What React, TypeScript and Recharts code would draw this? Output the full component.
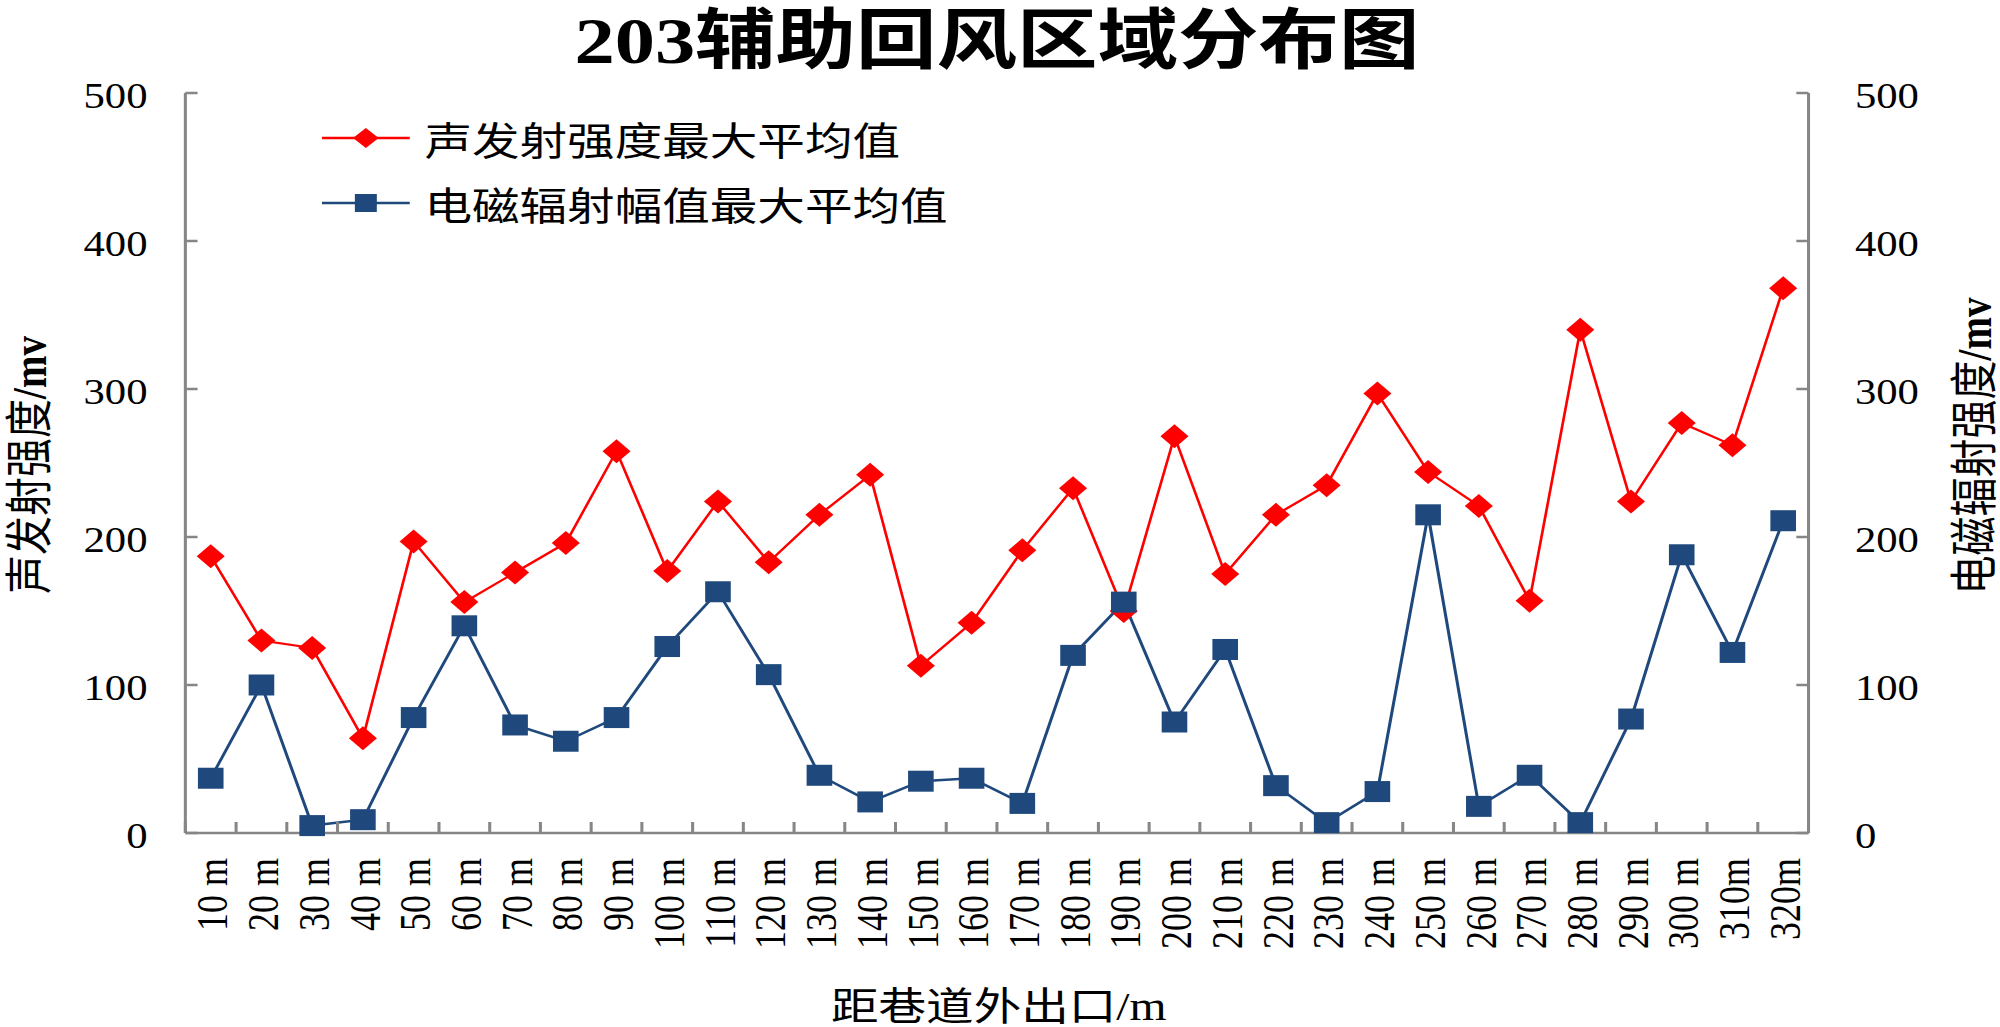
import { LineChart, Line, XAxis, YAxis, Legend } from "recharts";

// distance from the roadway exit
const distances = [
  "10 m", "20 m", "30 m", "40 m", "50 m", "60 m", "70 m", "80 m",
  "90 m", "100 m", "110 m", "120 m", "130 m", "140 m", "150 m", "160 m",
  "170 m", "180 m", "190 m", "200 m", "210 m", "220 m", "230 m", "240 m",
  "250 m", "260 m", "270 m", "280 m", "290 m", "300 m", "310m", "320m",
];

// 声发射强度最大平均值 (mv)
const acoustic = [
  187, 130, 125, 64, 197, 156, 176, 196,
  258, 177, 224, 183, 215, 242, 113, 142,
  191, 233, 150, 268, 175, 215, 235, 297,
  244, 221, 157, 340, 224, 277, 262, 368,
];

// 电磁辐射幅值最大平均值 (mv)
const electro = [
  37, 100, 5, 9, 78, 140, 73, 62,
  78, 126, 163, 107, 39, 21, 35, 37,
  20, 120, 156, 75, 124, 32, 7, 28,
  215, 18, 39, 7, 77, 188, 122, 211,
];

const valueTicks = [0, 100, 200, 300, 400, 500];

const rows = distances.map((d, i) => ({ distance: d, acoustic: acoustic[i], electro: electro[i] }));

// the source picture is stretched sideways, so draw narrow and scale x
const CHART_W = 1640;
const CHART_H = 1027;
const SX = 2000 / CHART_W;

const RED = "#FF0000";
const BLUE = "#1F497D";
const AXIS = "#868686";
const FONT = '"Liberation Serif", "Noto Sans CJK SC", serif';

function renderDiamond(props: any) {
  const { cx, cy, index } = props;
  if (cx == null || cy == null) return <g key={`a-${index}`} />;
  return (
    <path
      key={`a-${index}`}
      d={`M${cx},${cy - 12}L${cx + 11.5},${cy}L${cx},${cy + 12}L${cx - 11.5},${cy}Z`}
      fill={RED}
    />
  );
}

function renderSquare(props: any) {
  const { cx, cy, index } = props;
  if (cx == null || cy == null) return <g key={`e-${index}`} />;
  return <rect key={`e-${index}`} x={cx - 10.5} y={cy - 10.5} width={21} height={21} fill={BLUE} />;
}

function LeftTick({ x, y, payload }: any) {
  return (
    <g>
      <line x1={x + 31} x2={x + 41} y1={y} y2={y} stroke={AXIS} strokeWidth={2.5} />
      <text x={x} y={y} dy="0.42em" textAnchor="end" fontFamily={FONT} fontSize={35} fill="#000">
        {payload.value}
      </text>
    </g>
  );
}

function RightTick({ x, y, payload }: any) {
  return (
    <g>
      <line x1={x - 38} x2={x - 48} y1={y} y2={y} stroke={AXIS} strokeWidth={2.5} />
      <text x={x} y={y} dy="0.42em" textAnchor="start" fontFamily={FONT} fontSize={35} fill="#000">
        {payload.value}
      </text>
    </g>
  );
}

function DistanceTick({ x, y, payload }: any) {
  const half = payload && payload.offset ? payload.offset : 20.8;
  return (
    <g>
      <line x1={x - half} x2={x - half} y1={y - 25} y2={y - 36} stroke={AXIS} strokeWidth={2.5} />
      <text
        transform={`translate(${x},${y}) rotate(-90)`}
        dy="0.38em"
        textAnchor="end"
        fontFamily={FONT}
        fontSize={36}
        fill="#000"
      >
        {payload.value}
      </text>
    </g>
  );
}

function LegendBox({ payload }: any) {
  return (
    <div style={{ fontFamily: FONT, fontSize: 39, color: "#000" }}>
      {(payload || []).map((p: any) => (
        <div key={p.value} style={{ display: "flex", alignItems: "center", height: 65, whiteSpace: "nowrap" }}>
          <svg width={72} height={30} style={{ overflow: "visible" }}>
            <line x1={0} x2={72} y1={15} y2={15} stroke={p.color} strokeWidth={2.5} />
            {p.dataKey === "acoustic" ? (
              <path d="M36,5L46.5,15L36,25L25.5,15Z" fill={RED} />
            ) : (
              <rect x={27} y={6} width={18} height={18} fill={BLUE} />
            )}
          </svg>
          <span style={{ marginLeft: 12 }}>{p.value}</span>
        </div>
      ))}
    </div>
  );
}

const rotated = (cx: number, cy: number) => ({
  position: "absolute" as const,
  left: cx,
  top: cy,
  transform: "translate(-50%, -50%) rotate(-90deg)",
  whiteSpace: "nowrap" as const,
  lineHeight: 1,
  fontFamily: FONT,
  fontSize: 39,
  color: "#000",
});

export default function App() {
  return (
    <div style={{ position: "absolute", left: 0, top: 0, width: 2000, height: 1027, overflow: "hidden", background: "#fff" }}>
      <div
        style={{
          position: "absolute",
          left: 0,
          top: 0,
          width: CHART_W,
          height: CHART_H,
          transform: `scaleX(${SX})`,
          transformOrigin: "0 0",
        }}
      >
        <LineChart width={CHART_W} height={CHART_H} data={rows} margin={{ top: 93, right: 57, bottom: 44, left: 52 }}>
          <XAxis
            dataKey="distance"
            scale="band"
            interval={0}
            height={150}
            tickSize={0}
            tickMargin={25}
            tickLine={false}
            axisLine={{ stroke: AXIS, strokeWidth: 2.5 }}
            tick={<DistanceTick />}
          />
          <YAxis
            yAxisId="left"
            domain={[0, 500]}
            ticks={valueTicks}
            width={100}
            tickSize={0}
            tickMargin={31}
            tickLine={false}
            axisLine={{ stroke: AXIS, strokeWidth: 2.5 }}
            tick={<LeftTick />}
          />
          <YAxis
            yAxisId="right"
            orientation="right"
            domain={[0, 500]}
            ticks={valueTicks}
            width={100}
            tickSize={0}
            tickMargin={38}
            tickLine={false}
            axisLine={{ stroke: AXIS, strokeWidth: 2.5 }}
            tick={<RightTick />}
          />
          <Legend
            layout="vertical"
            align="center"
            verticalAlign="middle"
            content={<LegendBox />}
            wrapperStyle={{ left: 264, top: 105, width: "auto" }}
          />
          <Line
            yAxisId="left"
            dataKey="acoustic"
            name="声发射强度最大平均值"
            stroke={RED}
            strokeWidth={2.2}
            dot={renderDiamond}
            activeDot={false}
            isAnimationActive={false}
          />
          <Line
            yAxisId="right"
            dataKey="electro"
            name="电磁辐射幅值最大平均值"
            stroke={BLUE}
            strokeWidth={2.5}
            dot={renderSquare}
            activeDot={false}
            isAnimationActive={false}
          />
        </LineChart>

        <div
          style={{
            position: "absolute",
            left: 152,
            width: 1331,
            top: 8,
            textAlign: "center",
            fontFamily: FONT,
            fontSize: 66,
            lineHeight: "66px",
            fontWeight: 700,
            color: "#000",
            whiteSpace: "nowrap",
          }}
        >
          203辅助回风区域分布图
        </div>

        <div style={rotated(24, 465)}>
          声发射强度<span style={{ fontWeight: 700 }}>/mv</span>
        </div>
        <div style={rotated(1619, 446)}>
          电磁辐射强度<span style={{ fontWeight: 700 }}>/mv</span>
        </div>
        <div
          style={{
            position: "absolute",
            left: 819,
            top: 1006,
            transform: "translate(-50%, -50%)",
            whiteSpace: "nowrap",
            lineHeight: 1,
            fontFamily: FONT,
            fontSize: 39,
            color: "#000",
          }}
        >
          距巷道外出口/m
        </div>
      </div>
    </div>
  );
}
